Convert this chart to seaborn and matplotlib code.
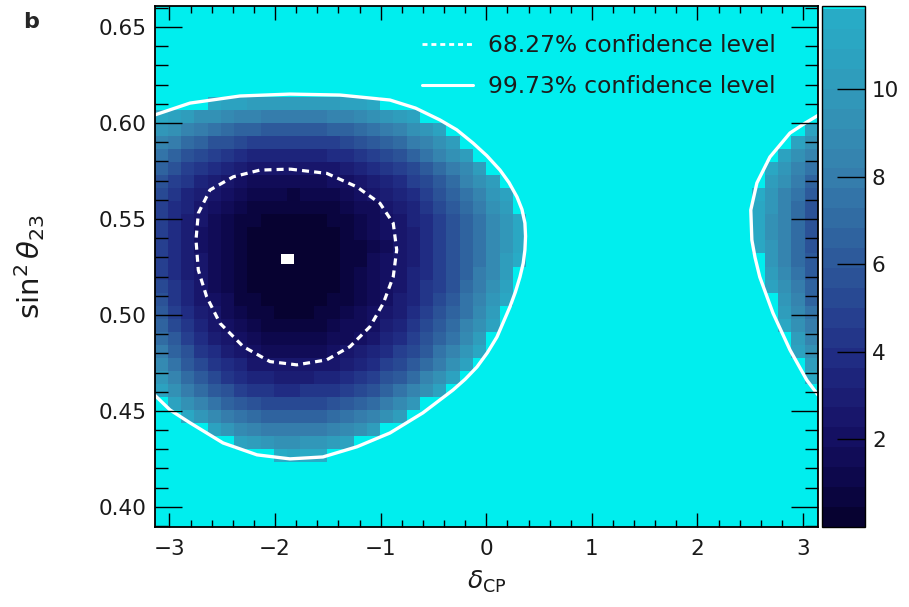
import numpy as np
import matplotlib
matplotlib.use("Agg")
import matplotlib.pyplot as plt
from matplotlib.colors import LinearSegmentedColormap, ListedColormap, BoundaryNorm
from matplotlib.lines import Line2D
from matplotlib.path import Path
from matplotlib.ticker import MultipleLocator, FormatStrFormatter
import seaborn as sns

# ---------------------------------------------------------------- binning
N_DELTA_BINS = 50
N_S2_BINS = 40
DELTA_LIMITS = (-np.pi, np.pi)
S2_LIMITS = (0.3895, 0.661)

# Delta chi^2 per bin, one entry per sin^2(theta23) row:
# (row index, first deltaCP bin, values).  Bins not listed are above 11.83.
DCHI2_ROWS = [
    (32, 4, "11.0 10.7 10.5 10.3 10.2 10.1 10.1 10.1 10.2 10.3 10.5 10.8 11.1"),
    (31, 0, "11.3 10.7 10.1 9.5 9.1 8.7 8.4 8.2 8.1 8.0 8.0 8.0 8.1 8.3 8.5 8.8 9.2 9.7 10.2 10.8"),
    (30, 0, "9.8 9.1 8.4 7.9 7.4 7.0 6.6 6.4 6.2 6.2 6.1 6.2 6.3 6.5 6.7 7.1 7.5 8.0 8.6 9.3 10.0 10.8"),
    (29, 0, "8.6 7.8 7.1 6.4 5.9 5.5 5.1 4.9 4.7 4.6 4.6 4.6 4.8 5.0 5.2 5.6 6.0 6.5 7.1 7.8 8.5 9.4 10.3"),
    (28, 0, "7.4 6.6 5.9 5.2 4.7 4.3 3.9 3.6 3.5 3.4 3.3 3.4 3.5 3.7 4.0 4.3 4.7 5.3 5.9 6.5 7.3 8.2 9.1 10.2"),
    (27, 0, "6.6 5.7 4.9 4.3 3.7 3.3 2.9 2.6 2.4 2.3 2.3 2.4 2.5 2.7 2.9 3.3 3.7 4.2 4.8 5.4 6.2 7.0 8.0 9.0 10.1"),
    (26, 0, "5.8 4.9 4.2 3.5 2.9 2.5 2.1 1.8 1.6 1.5 1.5 1.6 1.7 1.9 2.1 2.5 2.9 3.4 4.0 4.6 5.4 6.2 7.1 8.2 9.2 10.4"),
    (25, 0, "5.3 4.4 3.6 3.0 2.4 1.9 1.5 1.2 1.1 1.0 0.9 1.0 1.1 1.3 1.5 1.9 2.3 2.8 3.3 4.0 4.7 5.5 6.4 7.4 8.5 9.7 10.9"),
    (24, 0, "4.9 4.0 3.2 2.6 2.0 1.5 1.1 0.8 0.6 0.5 0.5 0.5 0.7 0.8 1.1 1.4 1.8 2.3 2.9 3.5 4.3 5.1 6.0 7.0 8.0 9.2 10.4"),
    (23, 0, "4.8 3.8 3.0 2.3 1.7 1.2 0.9 0.6 0.4 0.3 0.2 0.3 0.4 0.6 0.8 1.1 1.5 2.0 2.6 3.2 3.9 4.7 5.6 6.6 7.7 8.8 10.0 11.3"),
    (22, 0, "4.7 3.7 2.9 2.2 1.6 1.1 0.7 0.4 0.2 0.1 0.1 0.1 0.2 0.4 0.7 1.0 1.4 1.9 2.4 3.1 3.8 4.6 5.5 6.5 7.6 8.7 9.9 11.3"),
    (21, 0, "4.7 3.8 2.9 2.2 1.6 1.1 0.7 0.3 0.1 0.0 0.0 0.1 0.2 0.3 0.6 0.9 1.3 1.8 2.4 3.0 3.8 4.6 5.5 6.5 7.5 8.7 9.9 11.3"),
    (20, 0, "4.9 3.9 3.0 2.3 1.6 1.1 0.7 0.3 0.1 0.0 0.0 0.0 0.2 0.3 0.6 0.9 1.4 1.9 2.4 3.1 3.8 4.7 5.6 6.6 7.7 8.8 10.1 11.5"),
    (19, 0, "5.0 4.0 3.1 2.3 1.7 1.1 0.7 0.4 0.2 0.0 0.0 0.1 0.2 0.4 0.6 1.0 1.4 1.9 2.5 3.2 3.9 4.8 5.7 6.7 7.8 9.0 10.3"),
    (18, 0, "5.3 4.2 3.3 2.5 1.8 1.2 0.8 0.4 0.2 0.1 0.1 0.1 0.2 0.4 0.7 1.1 1.5 2.0 2.6 3.3 4.1 5.0 5.9 7.0 8.1 9.4 10.7"),
    (17, 0, "5.6 4.5 3.5 2.7 2.0 1.4 0.9 0.6 0.3 0.2 0.2 0.2 0.4 0.6 0.8 1.2 1.7 2.2 2.8 3.5 4.4 5.2 6.2 7.3 8.5 9.8 11.1"),
    (16, 0, "6.0 4.9 3.9 3.0 2.3 1.7 1.2 0.8 0.6 0.4 0.4 0.4 0.6 0.8 1.1 1.4 1.9 2.5 3.1 3.8 4.7 5.6 6.6 7.7 8.9 10.3"),
    (15, 0, "6.6 5.4 4.3 3.4 2.6 2.0 1.5 1.1 0.8 0.7 0.7 0.7 0.9 1.1 1.4 1.8 2.2 2.8 3.5 4.2 5.1 6.0 7.1 8.2 9.5 10.8"),
    (14, 0, "7.2 6.0 4.9 3.9 3.1 2.4 1.9 1.5 1.3 1.1 1.1 1.1 1.3 1.5 1.8 2.2 2.7 3.3 4.0 4.7 5.6 6.6 7.7 8.8 10.1"),
    (13, 0, "7.9 6.6 5.5 4.5 3.7 3.0 2.5 2.1 1.8 1.6 1.6 1.7 1.8 2.0 2.3 2.8 3.3 3.9 4.6 5.4 6.3 7.3 8.4 9.7 11.0"),
    (12, 0, "8.7 7.4 6.3 5.3 4.4 3.7 3.2 2.7 2.5 2.3 2.3 2.3 2.5 2.7 3.0 3.5 4.0 4.6 5.3 6.2 7.1 8.1 9.3 10.6"),
    (11, 0, "9.6 8.3 7.1 6.1 5.2 4.5 4.0 3.5 3.2 3.1 3.1 3.1 3.3 3.5 3.9 4.3 4.9 5.5 6.3 7.2 8.2 9.3 10.5"),
    (10, 0, "10.7 9.3 8.1 7.1 6.2 5.5 4.9 4.5 4.2 4.0 4.0 4.1 4.2 4.5 4.9 5.3 5.9 6.6 7.4 8.4 9.4 10.6"),
    (9, 1, "10.7 9.4 8.3 7.4 6.6 6.1 5.6 5.3 5.1 5.1 5.2 5.3 5.6 6.0 6.5 7.2 7.9 8.8 9.8"),
    (8, 2, "11.1 9.9 8.9 8.1 7.4 6.9 6.6 6.4 6.4 6.5 6.6 6.9 7.4 7.9 8.6 9.4 10.4"),
    (7, 4, "10.7 9.7 9.0 8.5 8.1 7.9 7.8 7.9 8.1 8.4 8.9 9.5 10.3"),
    (6, 6, "10.7 10.1 9.7 9.5 9.5 9.6 9.8 10.2 10.7"),
    (5, 9, "11.4 11.3 11.4 11.6"),
]

# The same allowed region continued across deltaCP = +pi
DCHI2_WRAP_ROWS = [
    (30, 49, "10.7"),
    (29, 48, "10.5 9.5"),
    (28, 47, "10.5 9.4 8.4"),
    (27, 46, "11.0 9.8 8.6 7.5"),
    (26, 46, "10.3 9.1 7.9 6.8"),
    (25, 45, "11.4 9.9 8.6 7.4 6.3"),
    (24, 45, "11.0 9.6 8.3 7.0 5.9"),
    (23, 45, "11.0 9.5 8.2 6.9 5.8"),
    (22, 45, "11.0 9.5 8.2 6.9 5.7"),
    (21, 45, "11.2 9.7 8.3 7.0 5.8"),
    (20, 46, "10.0 8.5 7.2 6.0"),
    (19, 46, "10.3 8.8 7.4 6.1"),
    (18, 46, "10.8 9.2 7.8 6.4"),
    (17, 47, "9.7 8.2 6.8"),
    (16, 47, "10.3 8.7 7.3"),
    (15, 47, "11.0 9.4 7.9"),
    (14, 48, "10.1 8.6"),
    (13, 48, "10.9 9.3"),
    (12, 49, "10.2"),
    (11, 49, "11.1"),
]
DCHI2_ABOVE = 20.0          # any bin beyond the 99.73% level
DCHI2_MAX = 11.83           # top of the colour scale

# 99.73% CL contour: lobe around deltaCP ~ -1.9 and its continuation near +pi
CL9973_LEFT = [
    (-3.1416, 0.6042), (-2.806, 0.6104), (-2.332, 0.6141), (-1.859, 0.6151),
    (-1.385, 0.6146), (-0.912, 0.6120), (-0.670, 0.6078), (-0.438, 0.6016),
    (-0.280, 0.5965), (-0.126, 0.5896), (0.005, 0.5830), (0.130, 0.5755),
    (0.215, 0.5690), (0.291, 0.5615), (0.338, 0.5550), (0.366, 0.5479),
    (0.372, 0.5410), (0.366, 0.5339), (0.350, 0.5270), (0.319, 0.5198),
    (0.276, 0.5120), (0.224, 0.5042), (0.101, 0.4885), (0.010, 0.4803),
    (-0.088, 0.4729), (-0.200, 0.4665), (-0.315, 0.4609), (-0.600, 0.4490),
    (-0.912, 0.4385), (-1.225, 0.4313), (-1.547, 0.4260), (-1.859, 0.4250),
    (-2.171, 0.4271), (-2.493, 0.4333), (-2.806, 0.4438), (-2.995, 0.4505),
    (-3.1416, 0.4583),
]
CL9973_RIGHT = [
    (3.1416, 0.6040), (3.020, 0.6000), (2.876, 0.5948), (2.686, 0.5823),
    (2.563, 0.5688), (2.505, 0.5547), (2.515, 0.5391), (2.545, 0.5300),
    (2.590, 0.5198), (2.715, 0.5010), (2.876, 0.4818), (3.035, 0.4661),
    (3.1416, 0.4583),
]
# 68.27% CL contour (closed)
CL6827 = [
    (-1.859, 0.5760), (-1.511, 0.5738), (-1.227, 0.5668), (-1.007, 0.5582),
    (-0.881, 0.5478), (-0.848, 0.5339), (-0.881, 0.5199), (-0.975, 0.5061),
    (-1.101, 0.4939), (-1.291, 0.4835), (-1.511, 0.4766), (-1.795, 0.4740),
    (-2.048, 0.4757), (-2.301, 0.4835), (-2.522, 0.4957), (-2.648, 0.5095),
    (-2.727, 0.5234), (-2.749, 0.5391), (-2.727, 0.5530), (-2.617, 0.5651),
    (-2.396, 0.5720), (-2.143, 0.5755), (-1.859, 0.5760),
]
BEST_FIT = (-1.88, 0.529)

LEGEND_LABELS = ["68.27% confidence level", "99.73% confidence level"]
CBAR_TICKS = [2, 4, 6, 8, 10]

# palette anchors (Delta chi^2 value -> colour)
PALETTE_VALUES = [0, 1, 2, 3, 4, 5, 6, 7, 8, 9, 10, 11, 11.83]
PALETTE_COLORS = ["#06012c", "#0c0749", "#140f61", "#1b1d74", "#212f86",
                  "#274491", "#2d589a", "#316ba3", "#357dac", "#348cb3",
                  "#309aba", "#2ba5c2", "#27adc7"]
OVER_COLOR = "#00eeee"
N_LEVELS = 26

# ---------------------------------------------------------------- style
sns.set_style("ticks")
plt.rcParams["font.family"] = ["DejaVu Sans"]
plt.rcParams["mathtext.fontset"] = "dejavusans"

# ---------------------------------------------------------------- grid
delta_edges = np.linspace(DELTA_LIMITS[0], DELTA_LIMITS[1], N_DELTA_BINS + 1)
s2_edges = np.linspace(S2_LIMITS[0], S2_LIMITS[1], N_S2_BINS + 1)
delta_mid = 0.5 * (delta_edges[:-1] + delta_edges[1:])
s2_mid = 0.5 * (s2_edges[:-1] + s2_edges[1:])

dchi2 = np.full((N_S2_BINS, N_DELTA_BINS), DCHI2_ABOVE)
for row, first, text in DCHI2_ROWS + DCHI2_WRAP_ROWS:
    vals = [float(v) for v in text.split()]
    dchi2[row, first:first + len(vals)] = vals
grid_delta, grid_s2 = np.meshgrid(delta_mid, s2_mid)

# discrete palette with a cyan cap above the 99.73% level
base = LinearSegmentedColormap.from_list(
    "dchi2", list(zip(np.array(PALETTE_VALUES) / DCHI2_MAX, PALETTE_COLORS)))
levels = np.linspace(0, DCHI2_MAX, N_LEVELS + 1)
mids = 0.5 * (levels[:-1] + levels[1:])
colors = [base(m / DCHI2_MAX) for m in mids] + [OVER_COLOR]
cmap = ListedColormap(colors)
cmap.set_over(OVER_COLOR)
bounds = np.append(levels, 11.9)
norm = BoundaryNorm(bounds, ncolors=len(colors))

# ---------------------------------------------------------------- figure
fig = plt.figure(figsize=(9.09, 6.07), dpi=100)
fig.patch.set_facecolor("white")
ax = fig.add_axes([0.170, 0.1318, 0.7299, 0.8583])
cax = fig.add_axes([0.9043, 0.1318, 0.0473, 0.8583])

sns.histplot(x=grid_delta.ravel(), y=grid_s2.ravel(), weights=dchi2.ravel(),
             bins=[delta_edges, s2_edges], cmap=cmap, norm=norm,
             vmin=None, vmax=None, thresh=None,
             cbar=True, cbar_ax=cax,
             cbar_kws=dict(spacing="proportional", ticks=CBAR_TICKS), ax=ax)

left = np.array(CL9973_LEFT)
right = np.array(CL9973_RIGHT)
inner = np.array(CL6827)
sns.lineplot(x=left[:, 0], y=left[:, 1], sort=False, estimator=None,
             errorbar=None, color="white", linewidth=2.4, ax=ax)
sns.lineplot(x=right[:, 0], y=right[:, 1], sort=False, estimator=None,
             errorbar=None, color="white", linewidth=2.4, ax=ax)
sns.lineplot(x=inner[:, 0], y=inner[:, 1], sort=False, estimator=None,
             errorbar=None, color="white", linewidth=2.3,
             linestyle=(0, (2.2, 1.6)), ax=ax)

rect = Path([(-1.3, -1), (1.3, -1), (1.3, 1), (-1.3, 1), (-1.3, -1)])
sns.scatterplot(x=[BEST_FIT[0]], y=[BEST_FIT[1]], marker=rect, s=90,
                color="white", edgecolor="none", linewidth=0, zorder=5, ax=ax)

# axes: ticks drawn over the map, on all four sides
ax.set_axisbelow(False)
ax.set_xlim(*DELTA_LIMITS)
ax.set_ylim(*S2_LIMITS)
ax.xaxis.set_major_locator(MultipleLocator(1))
ax.xaxis.set_minor_locator(MultipleLocator(0.2))
ax.yaxis.set_major_locator(MultipleLocator(0.05))
ax.yaxis.set_minor_locator(MultipleLocator(0.01))
ax.yaxis.set_major_formatter(FormatStrFormatter("%.2f"))
ax.tick_params(which="both", direction="in", top=True, right=True,
               color="black", width=1.0, labelsize=15.5, labelcolor="#1a1a1a")
ax.tick_params(axis="x", which="major", length=10, pad=9)
ax.tick_params(axis="x", which="minor", length=5)
ax.tick_params(axis="y", which="major", length=19.5, pad=6)
ax.tick_params(axis="y", which="minor", length=9.5)
for sp in ax.spines.values():
    sp.set_color("black")
    sp.set_linewidth(1.3)
    sp.set_zorder(6)

ax.set_xlabel(r"$\delta_{\rm CP}$", fontsize=18, color="#1a1a1a")
ax.set_ylabel(r"$\sin^{2}\theta_{23}$", fontsize=21, color="#1a1a1a")
ax.xaxis.set_label_coords(0.5, -0.08)
ax.yaxis.set_label_coords(-0.162, 0.5)

handles = [Line2D([], [], color="white", lw=2.0, linestyle=(0, (1.8, 1.4))),
           Line2D([], [], color="white", lw=2.2)]
ax.legend(handles, LEGEND_LABELS, loc="upper right",
          bbox_to_anchor=(0.937, 0.946), frameon=False, fontsize=16.8,
          handlelength=2.2, handletextpad=0.65, labelspacing=0.78,
          borderpad=0, borderaxespad=0, labelcolor="#1c1c1c")

# colour bar
mesh = ax.collections[0]
cb = mesh.colorbar
cb.outline.set_linewidth(1.0)
cb.outline.set_edgecolor("black")
cax.set_axisbelow(False)
cax.minorticks_off()
cax.yaxis.set_ticks_position("right")
cax.tick_params(axis="y", direction="in", length=20, width=1.0, color="black",
                labelsize=15.5, pad=5, labelcolor="#1a1a1a")

fig.text(23 / 909, 1 - 28 / 607, "b", fontsize=16, fontweight="bold",
         ha="left", va="baseline")

fig.savefig("out.png", dpi=100)
